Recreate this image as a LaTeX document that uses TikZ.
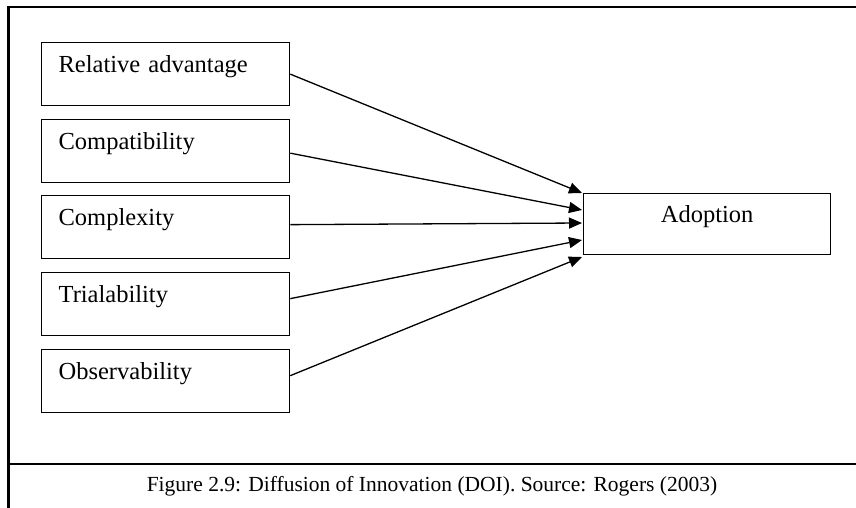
\documentclass[tikz,border=0pt]{standalone}
\usepackage{fontspec}
\setmainfont{Liberation Serif}
\usetikzlibrary{arrows.meta}
\begin{document}
\begin{tikzpicture}[x=1pt,y=-1pt,
  factor/.style={draw, line width=1.3pt, anchor=north west,
    minimum width=248pt, text width=214pt, align=left,
    inner xsep=17pt, inner ysep=6pt, text height=24pt, text depth=27pt,
    font=\fontsize{24.5}{28}\selectfont},
  outcome/.style={draw, line width=1.3pt, anchor=north west,
    minimum width=247pt, text width=213pt, align=center,
    inner xsep=17pt, inner ysep=6pt, text height=23pt, text depth=26pt,
    font=\fontsize{24.5}{28}\selectfont},
  link/.style={line width=1.3pt, -{Triangle[length=13pt,width=11pt]}},
  frame/.style={line width=2.6pt}]
\useasboundingbox (0,0) rectangle (856,508);

% outer frame and caption rule
\draw[frame] (8.5,508) -- (8.5,7) -- (856,7);
\draw[frame] (8.5,464) -- (856,464);

% attribute boxes
\node[factor] (rel) at (41,42)  {Relative advantage};
\node[factor] (com) at (41,119) {Compatibility};
\node[factor] (cpx) at (41,195) {Complexity};
\node[factor] (tri) at (41,272) {Trialability};
\node[factor] (obs) at (41,349) {Observability};

% outcome box
\node[outcome] (adp) at (583,193) {Adoption};

% arrow tips along the left side of the outcome box
\coordinate (t1) at (582,193);
\coordinate (t2) at (582,210);
\coordinate (t3) at (582,223);
\coordinate (t4) at (582,240);
\coordinate (t5) at (582,257);

\draw[link] (rel.east) -- (t1);
\draw[link] ([yshift=-2pt]com.east) -- (t2);
\draw[link] ([yshift=2.5pt]cpx.east) -- (t3);
\draw[link] ([yshift=5.5pt]tri.east) -- (t4);
\draw[link] ([yshift=5.5pt]obs.east) -- (t5);

% caption
\node[anchor=base, font=\fontsize{21.5}{26}\selectfont] (cap) at (432,491)
  {Figure 2.9: Diffusion of Innovation (DOI). Source: Rogers (2003)};
\end{tikzpicture}
\end{document}
